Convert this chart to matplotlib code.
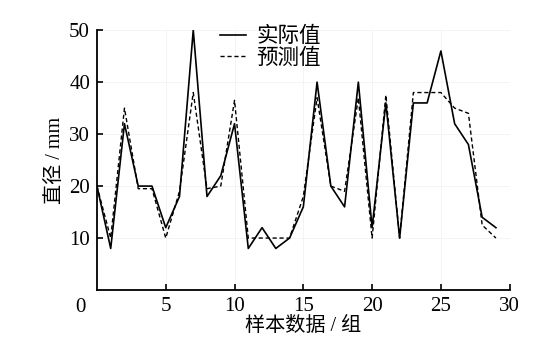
import matplotlib
matplotlib.use("Agg")
import matplotlib.pyplot as plt

plt.rcParams['font.family'] = ['Liberation Serif', 'Noto Sans CJK SC']
plt.rcParams['axes.unicode_minus'] = False

samples = list(range(30))
actual = [20, 8, 32, 20, 20, 12, 18, 50, 18, 22, 32, 8, 12, 8, 10,
          16, 40, 20, 16, 40, 12, 36, 10, 36, 36, 46, 32, 28, 14, 12]
predicted = [20, 10, 35, 19.5, 19.5, 10, 19, 38, 19.5, 20, 36.5, 10, 10, 10, 10,
             18, 37, 20, 19, 37, 10, 37.5, 10, 38, 38, 38, 35, 34, 12.5, 10]
xticks = [5, 10, 15, 20, 25, 30]
yticks = [10, 20, 30, 40, 50]

fig = plt.figure(figsize=(5.54, 3.55), dpi=100)
ax = fig.add_axes([0.175, 0.183, 0.745, 0.732])

ax.plot(samples, actual, color='black', lw=1.2, label='实际值')
ax.plot(samples, predicted, color='black', lw=1.0, ls=(0, (3, 2)), label='预测值')

ax.set_xlim(0, 30)
ax.set_ylim(0, 50)
ax.set_xticks(xticks)
ax.set_yticks(yticks)
ax.tick_params(direction='in', length=4, width=1.2, labelsize=15, pad=5)
ax.grid(color='#f2f2f2', lw=0.6)
ax.set_axisbelow(True)

for s in ['top', 'right']:
    ax.spines[s].set_visible(False)
for s in ['left', 'bottom']:
    ax.spines[s].set_linewidth(1.3)

# shared origin label
fig.text(80 / 554, 1 - 308 / 355, '0', fontsize=15, ha='center', va='center')

ax.set_xlabel('样本数据 / 组', fontsize=14.5, labelpad=1)
ax.set_ylabel('直径 / mm', fontsize=14.5, labelpad=3)

ax.legend(loc='upper center', bbox_to_anchor=(0.42, 1.07), frameon=False,
          fontsize=15.5, handlelength=1.2, handletextpad=0.5, labelspacing=0.05,
          borderpad=0.2)

fig.savefig('out.png', dpi=100)
